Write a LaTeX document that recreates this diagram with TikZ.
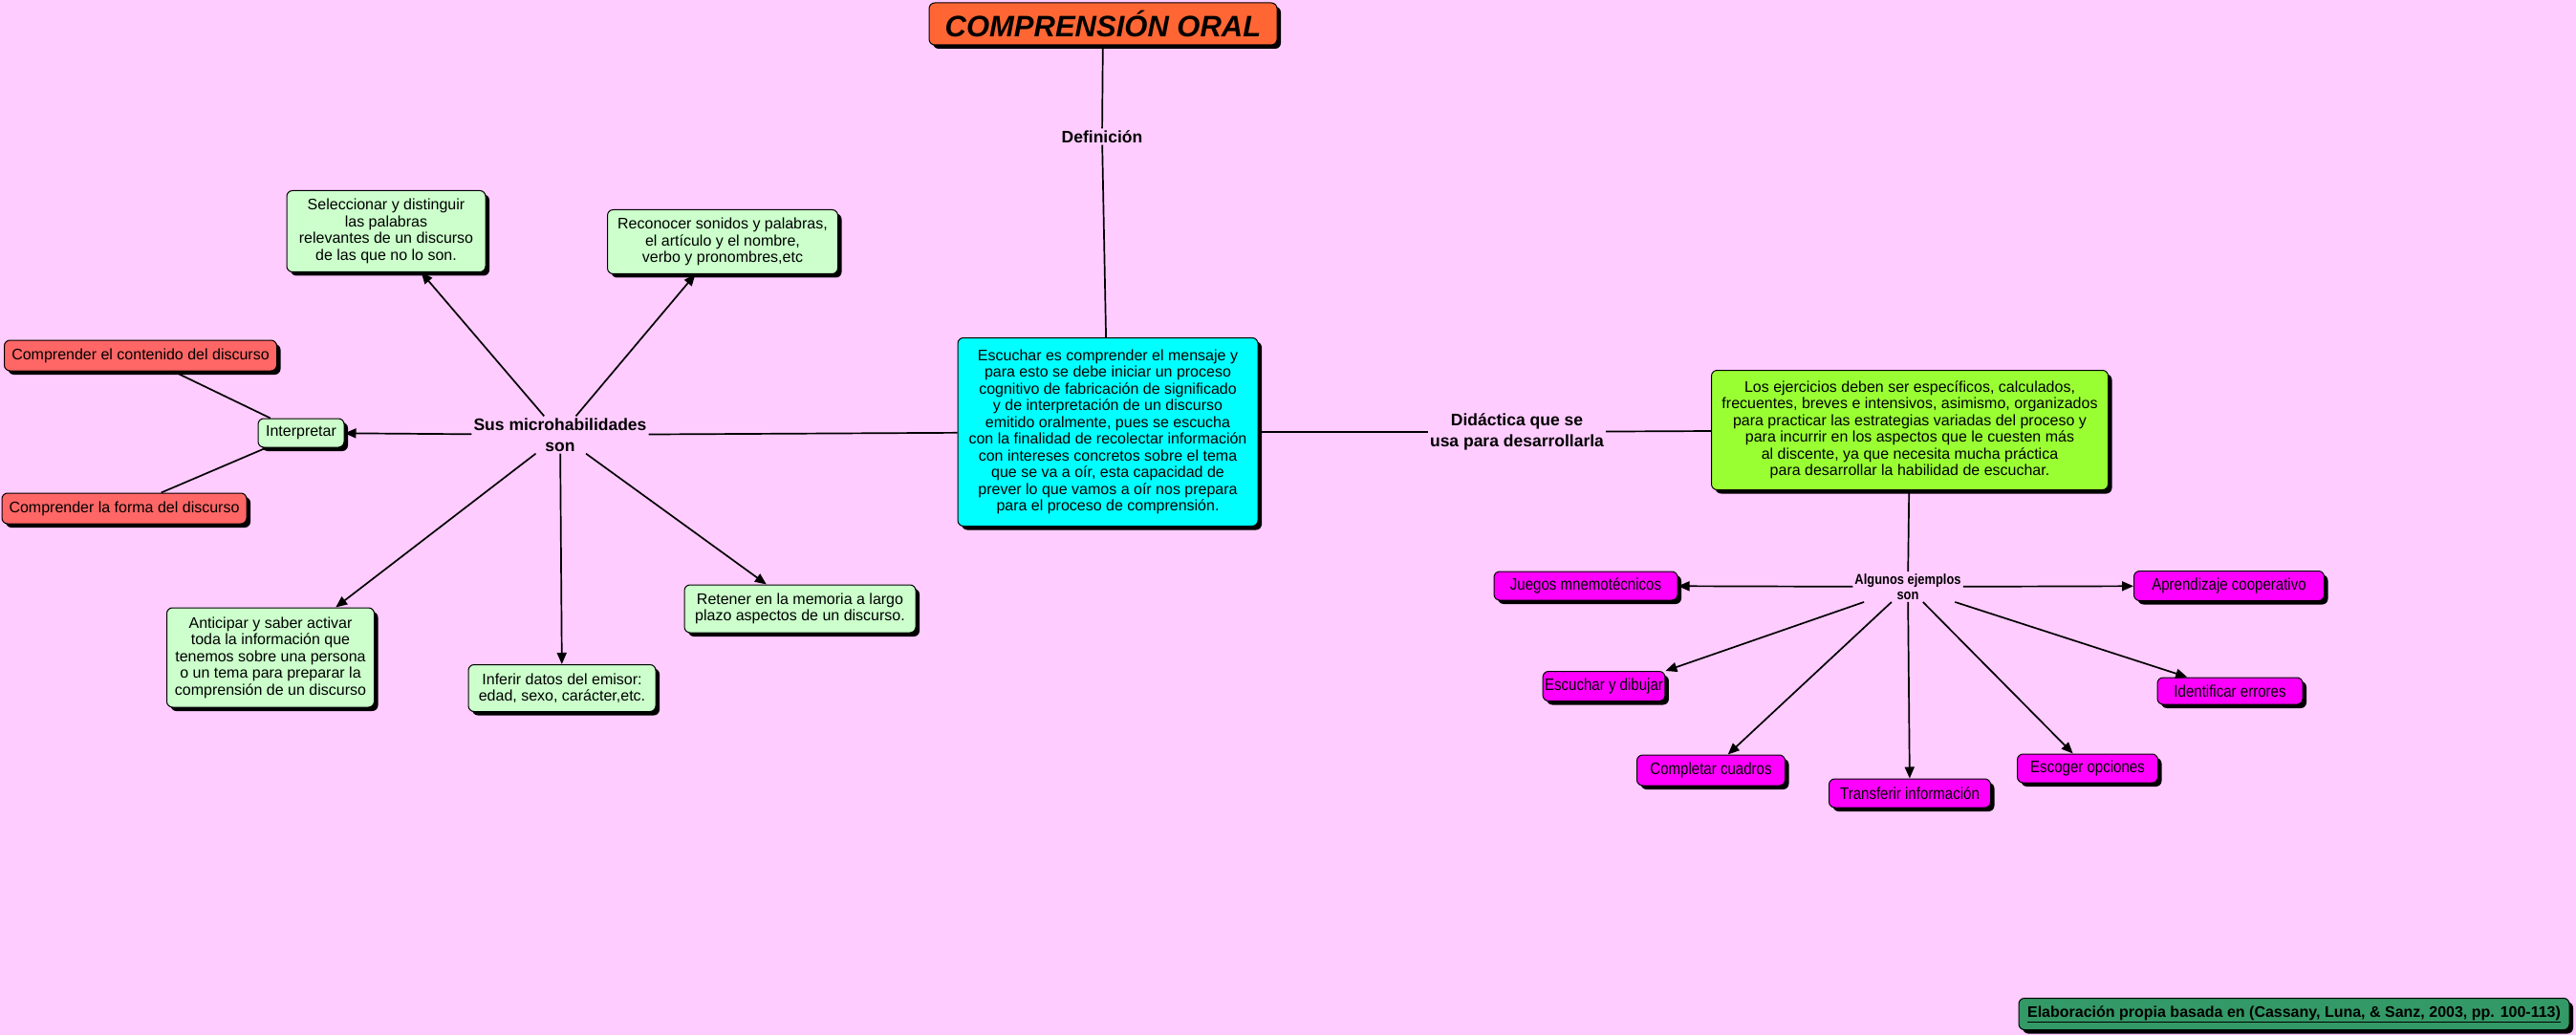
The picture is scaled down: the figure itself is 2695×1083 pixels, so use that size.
\documentclass[tikz,border=0pt]{standalone}
\usepackage{fontspec}
\setmainfont{Liberation Sans}
\newfontfamily\estrecha[FakeStretch=0.86]{Liberation Sans}
\usetikzlibrary{arrows.meta,shadows}

\definecolor{fondo}{HTML}{FFCCFF}
\definecolor{naranja}{HTML}{FF6633}
\definecolor{turquesa}{HTML}{00FFFF}
\definecolor{verdeclaro}{HTML}{CCFFCC}
\definecolor{rojo}{HTML}{FF6666}
\definecolor{lima}{HTML}{99FF33}
\definecolor{fucsia}{HTML}{FF00FF}
\definecolor{verdeoscuro}{HTML}{339966}

\tikzset{
  caja/.style={draw=black, line width=1pt, rounded corners=6pt, align=center, inner sep=2pt,
    font=\fontsize{16}{17.5}\selectfont,
    drop shadow={shadow xshift=4pt, shadow yshift=-4pt, fill=black, opacity=1}},
  micro/.style={caja, fill=verdeclaro},
  ejemplo/.style={caja, fill=fucsia, font=\estrecha\fontsize{17.5}{19}\selectfont},
  enlace/.style={align=center, inner sep=2pt, font=\bfseries\fontsize{17.5}{22}\selectfont},
  linea/.style={line width=1.7pt},
  flecha/.style={linea, -{Triangle[length=12pt, width=10pt]}}
}

\begin{document}
\begin{tikzpicture}[x=1pt, y=-1pt]
  \useasboundingbox (0,0) rectangle (2695,1083);
  \fill[fondo] (0,0) rectangle (2695,1083);

  % centro
  \node[caja, fill=naranja, minimum width=364pt, minimum height=44pt, font=\bfseries\itshape\fontsize{31}{36}\selectfont] (titulo) at (1154,25) {COMPRENSIÓN ORAL};
  \node[enlace] (definicion) at (1153,143) {Definición};
  \node[caja, fill=turquesa, minimum width=314pt, minimum height=197pt] (escuchar) at (1159,452)
    {Escuchar es comprender el mensaje y\\ para esto se debe iniciar un proceso\\ cognitivo de fabricación de significado\\ y de interpretación de un discurso\\ emitido oralmente, pues se escucha\\ con la finalidad de recolectar información\\ con intereses concretos sobre el tema\\ que se va a oír, esta capacidad de\\ prever lo que vamos a oír nos prepara\\ para el proceso de comprensión.};

  \draw[linea] (titulo) -- (definicion);
  \draw[linea] (definicion) -- (escuchar);

  % microhabilidades
  \node[enlace] (sus) at (586,455) {Sus microhabilidades\\ son};
  \node[micro, minimum width=208pt, minimum height=85pt] (seleccionar) at (404,242)
    {Seleccionar y distinguir\\ las palabras\\ relevantes de un discurso\\ de las que no lo son.};
  \node[micro, minimum width=241pt, minimum height=67pt] (reconocer) at (756,253)
    {Reconocer sonidos y palabras,\\ el artículo y el nombre,\\ verbo y pronombres,etc};
  \node[micro, minimum width=90pt, minimum height=30pt] (interpretar) at (315,453) {Interpretar};
  \node[caja, fill=rojo, minimum width=285pt, minimum height=32pt] (contenido) at (147,372) {Comprender el contenido del discurso};
  \node[caja, fill=rojo, minimum width=256pt, minimum height=32pt] (forma) at (130,532) {Comprender la forma del discurso};
  \node[micro, minimum width=217pt, minimum height=104pt] (anticipar) at (283,688)
    {Anticipar y saber activar\\ toda la información que\\ tenemos sobre una persona\\ o un tema para preparar la\\ comprensión de un discurso};
  \node[micro, minimum width=196pt, minimum height=49pt] (inferir) at (588,720)
    {Inferir datos del emisor:\\ edad, sexo, carácter,etc.};
  \node[micro, minimum width=242pt, minimum height=50pt] (retener) at (837,637)
    {Retener en la memoria a largo\\ plazo aspectos de un discurso.};

  \draw[linea] (escuchar) -- (sus);
  \foreach \destino in {seleccionar, reconocer, interpretar, anticipar, inferir, retener}
    \draw[flecha] (sus) -- (\destino);
  \draw[linea] (interpretar) -- (contenido);
  \draw[linea] (interpretar) -- (forma);

  % didactica
  \node[enlace] (didactica) at (1587,452) {Didáctica que se\\ usa para desarrollarla};
  \node[caja, fill=lima, minimum width=415pt, minimum height=125pt] (ejercicios) at (1998,450)
    {Los ejercicios deben ser específicos, calculados,\\ frecuentes, breves e intensivos, asimismo, organizados\\ para practicar las estrategias variadas del proceso y\\ para incurrir en los aspectos que le cuesten más\\ al discente, ya que necesita mucha práctica\\ para desarrollar la habilidad de escuchar.};
  \node[enlace, font=\estrecha\bfseries\fontsize{15}{16.5}\selectfont] (algunos) at (1996,614) {Algunos ejemplos\\ son};

  \draw[linea] (escuchar) -- (didactica);
  \draw[linea] (didactica) -- (ejercicios);
  \draw[linea] (ejercicios) -- (algunos);

  \node[ejemplo, minimum width=192pt, minimum height=30pt] (juegos) at (1659,613) {Juegos mnemotécnicos};
  \node[ejemplo, minimum width=199pt, minimum height=31pt] (aprendizaje) at (2332,613) {Aprendizaje cooperativo};
  \node[ejemplo, minimum width=126pt, minimum height=31pt] (dibujar) at (1678,718) {Escuchar y dibujar};
  \node[ejemplo, minimum width=152pt, minimum height=28pt] (errores) at (2333,723) {Identificar errores};
  \node[ejemplo, minimum width=155pt, minimum height=32pt] (cuadros) at (1790,806) {Completar cuadros};
  \node[ejemplo, minimum width=169pt, minimum height=30pt] (transferir) at (1998,830) {Transferir información};
  \node[ejemplo, minimum width=147pt, minimum height=30pt] (opciones) at (2184,804) {Escoger opciones};

  \foreach \destino in {juegos, aprendizaje, errores, cuadros, transferir, opciones}
    \draw[flecha] (algunos) -- (\destino);
  \draw[flecha] (algunos) -- (dibujar.north east);

  % fuente
  \node[caja, fill=verdeoscuro, minimum width=576pt, minimum height=33pt, font=\bfseries\fontsize{16}{18}\selectfont] (fuente) at (2400,1061)
    {\underline{Elaboración propia basada en (Cassany, Luna, \& Sanz, 2003, pp. 100-113)}};
\end{tikzpicture}
\end{document}
